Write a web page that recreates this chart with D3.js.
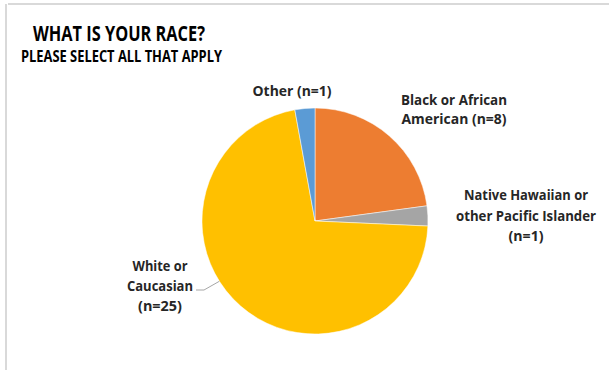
<!DOCTYPE html>
<html><head><meta charset="utf-8">
<script src="https://cdn.jsdelivr.net/npm/d3@7"></script>
<style>html,body{margin:0;padding:0;background:#fff;}svg{display:block;}</style>
</head><body>
<svg id="chart" width="609" height="370"></svg>
<script>
const categories = ["Black or African American", "Native Hawaiian or other Pacific Islander", "White or Caucasian", "Other"];
const counts = [8, 1, 25, 1];
const colors = ["#ED7D31", "#A5A5A5", "#FFC000", "#5B9BD5"];
const labelLines = [
  ["Black or African", "American (n=8)"],
  ["Native Hawaiian or", "other Pacific Islander", "(n=1)"],
  ["White or", "Caucasian", "(n=25)"],
  ["Other (n=1)"]
];

const svg = d3.select("#chart");
const font = "'Open Sans', 'Noto Sans', sans-serif";

// frame lines
svg.append("line").attr("x1", 8).attr("x2", 609).attr("y1", 4).attr("y2", 4).attr("stroke", "#d9d9d9").attr("stroke-width", 2);
svg.append("line").attr("x1", 6).attr("x2", 6).attr("y1", 4).attr("y2", 370).attr("stroke", "#d9d9d9").attr("stroke-width", 2);

svg.append("text").attr("x", 33).attr("y", 41).attr("font-family", font).attr("font-weight", 700)
  .attr("font-size", 21).attr("fill", "#000").attr("textLength", 172).attr("lengthAdjust", "spacingAndGlyphs")
  .text("WHAT IS YOUR RACE?");
svg.append("text").attr("x", 21).attr("y", 62).attr("font-family", font).attr("font-weight", 700)
  .attr("font-size", 16).attr("fill", "#000").attr("textLength", 201).attr("lengthAdjust", "spacingAndGlyphs")
  .text("PLEASE SELECT ALL THAT APPLY");

const cx = 315, cy = 221, r = 113;
const pie = d3.pie().sort(null).value(d => d)(counts);
const arc = d3.arc().innerRadius(0).outerRadius(r);
const g = svg.append("g").attr("transform", `translate(${cx},${cy})`);
g.selectAll("path").data(pie).join("path")
  .attr("d", arc).attr("fill", (d, i) => colors[i])
  .attr("stroke", "#fff").attr("stroke-width", 0.5);

// label positions (centers of text blocks) and per-line widths
const labelPos = [
  {x: 454, y: 105, lh: 19, w: [106, 105]},
  {x: 526, y: 200, lh: 20.5, w: [124, 140, 35]},
  {x: 160, y: 271, lh: 20, w: [55, 66, 44]},
  {x: 292, y: 96, lh: 19, w: [79]}
];
labelLines.forEach((lines, i) => {
  const p = labelPos[i];
  lines.forEach((ln, j) => {
    svg.append("text").attr("font-family", font).attr("font-weight", 700)
      .attr("font-size", 14).attr("fill", "#262626").attr("text-anchor", "middle")
      .attr("x", p.x).attr("y", p.y + j * p.lh)
      .attr("textLength", p.w[j]).attr("lengthAdjust", "spacingAndGlyphs")
      .text(ln);
  });
});

// leader line for White or Caucasian
const ang = 4.15; // angle on rim where leader touches
const ex = cx + Math.sin(ang) * r, ey = cy - Math.cos(ang) * r;
svg.append("polyline")
  .attr("points", `196,290 204,290 ${ex},${ey}`)
  .attr("fill", "none").attr("stroke", "#a6a6a6").attr("stroke-width", 1);
</script>
</body></html>
